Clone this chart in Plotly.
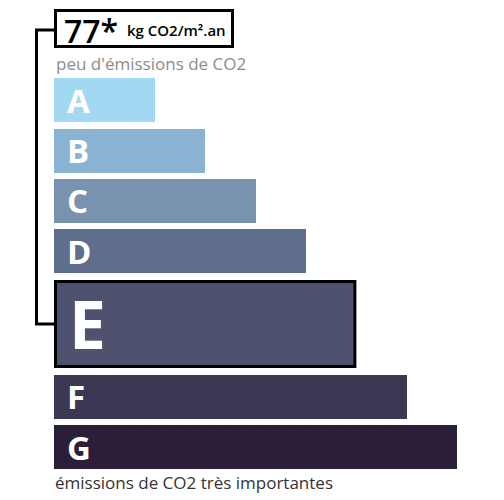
import plotly.graph_objects as go

# ---- data ----
classes = ["A", "B", "C", "D", "E", "F", "G"]
bar_lengths = [2, 3, 4, 5, 6, 7, 8]
colors = ["#a3d8f3", "#8ab3d3", "#7793b0", "#5f6e8e", "#4e526e", "#3c3853", "#2a1e38"]
current_class = "E"
value_text = "77*"
unit_text = "kg CO2/m².an"
top_label = "peu d'émissions de CO2"
bottom_label = "émissions de CO2 très importantes"

# ---- layout constants (screen pixels) ----
W, H = 504, 500
PAGE_MARGIN = 8       # default body margin of the html page
FW, FH = W - PAGE_MARGIN, H - PAGE_MARGIN
X0_PX = 54.0          # left edge of bars
UNIT_PX = 50.4        # pixels per length unit
centers = [100, 150.5, 200.5, 251, 324, 396.5, 447]
heights = [44, 44, 44, 44, 88, 44, 44]

def px_to_x(px):
    return (px - X0_PX) / UNIT_PX

def px_to_paper_x(px):
    return (px - PAGE_MARGIN) / FW

fig = go.Figure()
fig.add_trace(go.Bar(
    orientation="h",
    x=bar_lengths,
    y=centers,
    width=heights,
    base=0,
    marker=dict(color=colors, line=dict(width=0)),
    hoverinfo="skip",
    showlegend=False,
))

shapes = []
annotations = []

for cls, length, cy, h in zip(classes, bar_lengths, centers, heights):
    big = cls == current_class
    annotations.append(dict(
        x=0, y=cy, xref="x", yref="y", xanchor="left", yanchor="middle",
        xshift=(13 if big else 11), yshift=(1 if big else 0),
        text=f"<b>{cls}</b>", showarrow=False,
        font=dict(family="Open Sans", size=(66 if big else 33), color="white"),
    ))
    if big:
        inset = 1.5
        shapes.append(dict(
            type="rect", xref="x", yref="y",
            x0=inset / UNIT_PX, x1=length - inset / UNIT_PX,
            y0=cy - h / 2 + inset, y1=cy + h / 2 - inset,
            line=dict(color="black", width=3), fillcolor="rgba(0,0,0,0)",
        ))
        e_center = cy

# header box
shapes.append(dict(
    type="rect", xref="paper", yref="y",
    x0=px_to_paper_x(55.5), x1=px_to_paper_x(232.5), y0=10.5, y1=46.5,
    line=dict(color="black", width=3), fillcolor="white",
))
# bracket connecting header to current class
shapes.append(dict(
    type="path", xref="paper", yref="y",
    path=f"M {px_to_paper_x(55)} 30 L {px_to_paper_x(36.5)} 30 L {px_to_paper_x(36.5)} {e_center} L {px_to_paper_x(55)} {e_center}",
    line=dict(color="black", width=3),
))

annotations.append(dict(
    x=px_to_paper_x(62), y=30, xref="paper", yref="y", xanchor="left", yanchor="middle",
    text=value_text, showarrow=False,
    font=dict(family="Open Sans", size=32, color="black", weight=600),
))
annotations.append(dict(
    x=px_to_paper_x(125), y=30, xref="paper", yref="y", xanchor="left", yanchor="middle",
    text=unit_text, showarrow=False,
    font=dict(family="Open Sans", size=15, color="black", weight=600),
))
annotations.append(dict(
    x=px_to_paper_x(54), y=63, xref="paper", yref="y", xanchor="left", yanchor="middle",
    text=top_label, showarrow=False,
    font=dict(family="Open Sans", size=17, color="#8c8c8c"),
))
annotations.append(dict(
    x=px_to_paper_x(53), y=482, xref="paper", yref="y", xanchor="left", yanchor="middle",
    text=bottom_label, showarrow=False,
    font=dict(family="Open Sans", size=17, color="#333333"),
))

fig.update_layout(
    width=FW, height=FH,
    margin=dict(l=0, r=0, t=0, b=0),
    paper_bgcolor="white", plot_bgcolor="white",
    xaxis=dict(range=[px_to_x(PAGE_MARGIN), px_to_x(PAGE_MARGIN + FW)], visible=False, fixedrange=True),
    yaxis=dict(range=[PAGE_MARGIN + FH, PAGE_MARGIN], visible=False, fixedrange=True),
    bargap=0,
    shapes=shapes,
    annotations=annotations,
)

fig.write_html("out.html")
